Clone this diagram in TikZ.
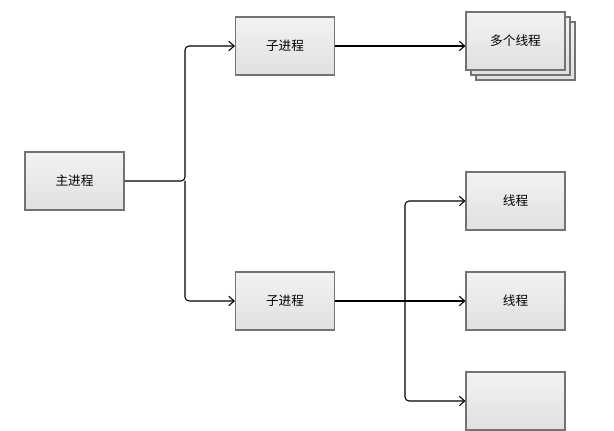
\documentclass[tikz,border=0pt]{standalone}
\usepackage{fontspec}
\newfontfamily\cjk{Noto Sans CJK SC}
\usetikzlibrary{arrows.meta}
\begin{document}
\begin{tikzpicture}[x=0.75pt,y=-0.75pt,
  box/.style={draw=black!55,line width=0.8pt,top color=black!5,bottom color=black!12,minimum width=74.25pt,minimum height=43.5pt,inner sep=0pt,font=\cjk\fontsize{9.5}{11}\selectfont},
  conn/.style={draw=black,line width=0.8pt,rounded corners=3pt,-{Straight Barb[length=4pt,width=7pt]}}]
\useasboundingbox (0,0) rectangle (614,431);
\node[box] (main) at (74.5,181) {主进程};
\node[box] (c1) at (285,46) {子进程};
\node[box] (c2) at (285,301) {子进程};
\node[box] (s3) at (525.5,51) {};
\node[box] (s2) at (520.5,46) {};
\node[box] (m) at (515.5,41) {多个线程};
\node[box] (t1) at (515.5,201) {线程};
\node[box] (t2) at (515.5,301) {线程};
\begin{scope}
\clip (0,0) rectangle (614,431);
\node[box] (t3) at (515.5,401) {};
\end{scope}
\coordinate (j1) at (185,181);
\coordinate (j2) at (405,301);
\draw[conn] (main.east) -- (j1) |- (c1.west);
\draw[conn] (j1) |- (c2.west);
\draw[conn] (c1.east) -- (c1.east -| m.west);
\draw[conn] (c2.east) -- (t2.west);
\draw[conn] (j2) |- (t1.west);
\draw[conn] (j2) |- (t3.west);
\end{tikzpicture}
\end{document}
